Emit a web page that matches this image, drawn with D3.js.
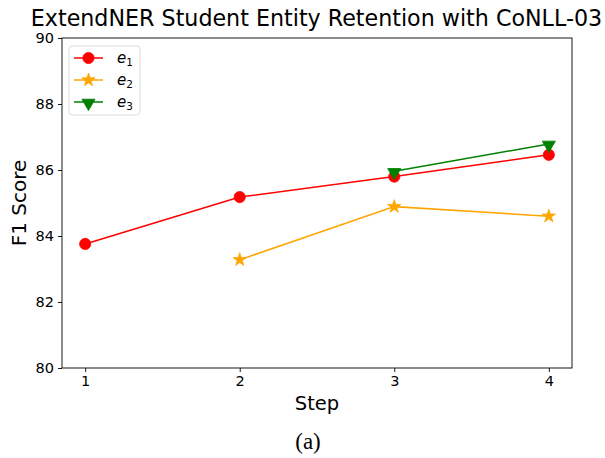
<!DOCTYPE html>
<html><head><meta charset="utf-8">
<script src="https://cdn.jsdelivr.net/npm/d3@7"></script>
<style>body{margin:0;background:#fff}svg{display:block}</style>
</head><body>
<svg id="c" width="605" height="458"></svg>
<script>
const steps = [1, 2, 3, 4];
const e1 = [83.76, 85.18, 85.8, 86.46];
const e2 = [null, 83.28, 84.89, 84.6];
const e3 = [null, null, 85.96, 86.79];
const yTicks = [80, 82, 84, 86, 88, 90];
const seriesNames = ["1", "2", "3"];
const colors = ["#ff0000", "#ffa500", "#008000"];
const markers = ["circle", "star", "triangle"];

const svg = d3.select("#c");
const L = 62, R = 572, T = 38, B = 368;
const x = d3.scaleLinear().domain([0.85, 4.15]).range([L, R]);
const y = d3.scaleLinear().domain([80, 90]).range([B, T]);
const font = "DejaVu Sans, sans-serif";

// frame
svg.append("rect").attr("x", L).attr("y", T).attr("width", R - L).attr("height", B - T)
  .attr("fill", "none").attr("stroke", "#000").attr("stroke-width", 0.9);

const xa = svg.append("g").attr("transform", `translate(0,${B})`)
  .call(d3.axisBottom(x).tickValues(steps).tickFormat(d3.format("d")).tickSize(4).tickPadding(4));
const ya = svg.append("g").attr("transform", `translate(${L},0)`)
  .call(d3.axisLeft(y).tickValues(yTicks).tickSize(4).tickPadding(4));
[xa, ya].forEach(a => {
  a.select(".domain").remove();
  a.selectAll("line").attr("stroke", "#000").attr("stroke-width", 0.9);
  a.selectAll("text").attr("font-family", font).attr("font-size", 14.5).attr("fill", "#000");
});

// labels
svg.append("text").attr("x", (L + R) / 2).attr("y", 410).attr("text-anchor", "middle")
  .attr("font-family", font).attr("font-size", 19.5).text("Step");
svg.append("text").attr("transform", `translate(25.5,${(T + B) / 2}) rotate(-90)`).attr("text-anchor", "middle")
  .attr("font-family", font).attr("font-size", 20).text("F1 Score");
svg.append("text").attr("x", 316.5).attr("y", 26).attr("text-anchor", "middle")
  .attr("font-family", font).attr("font-size", 22.2).text("ExtendNER Student Entity Retention with CoNLL-03");
svg.append("text").attr("x", 308).attr("y", 449).attr("text-anchor", "middle")
  .attr("font-family", "Liberation Serif, Times New Roman, serif").attr("font-size", 23).text("(a)");

const symbolFor = m => m === "circle" ? d3.symbol().type(d3.symbolCircle).size(Math.PI * 5.6 * 5.6)
  : m === "star" ? d3.symbol().type(d3.symbolStar).size(55)
  : d3.symbol().type(d3.symbolTriangle).size(75);

function drawMarker(g, m, cx, cy, color) {
  const p = g.append("path").attr("d", symbolFor(m)()).attr("fill", color).attr("stroke", color).attr("stroke-width", 0.8);
  if (m === "triangle") p.attr("transform", `translate(${cx},${cy + 1}) rotate(180)`);
  else p.attr("transform", `translate(${cx},${cy})`);
}

const all = [e1, e2, e3];
all.forEach((vals, i) => {
  const pts = steps.map((s, j) => [s, vals[j]]).filter(d => d[1] != null);
  const line = d3.line().x(d => x(d[0])).y(d => y(d[1]));
  svg.append("path").attr("d", line(pts)).attr("fill", "none").attr("stroke", colors[i]).attr("stroke-width", 1.5);
  const g = svg.append("g");
  pts.forEach(d => drawMarker(g, markers[i], x(d[0]), y(d[1]), colors[i]));
});

// legend
const lg = svg.append("g");
lg.append("rect").attr("x", 69).attr("y", 46).attr("width", 71).attr("height", 69).attr("rx", 3)
  .attr("fill", "#fff").attr("fill-opacity", 0.8).attr("stroke", "#d6d6d6").attr("stroke-width", 0.9);
seriesNames.forEach((n, i) => {
  const cy = 58 + i * 22;
  lg.append("line").attr("x1", 74).attr("x2", 103).attr("y1", cy).attr("y2", cy).attr("stroke", colors[i]).attr("stroke-width", 1.5);
  drawMarker(lg, markers[i], 88.5, cy, colors[i]);
  const t = lg.append("text").attr("x", 117).attr("y", cy + 5).attr("font-family", font).attr("font-size", 15);
  t.append("tspan").attr("font-style", "italic").text("e");
  t.append("tspan").attr("font-size", 10.5).attr("dy", 3).text(n);
});
</script>
</body></html>
